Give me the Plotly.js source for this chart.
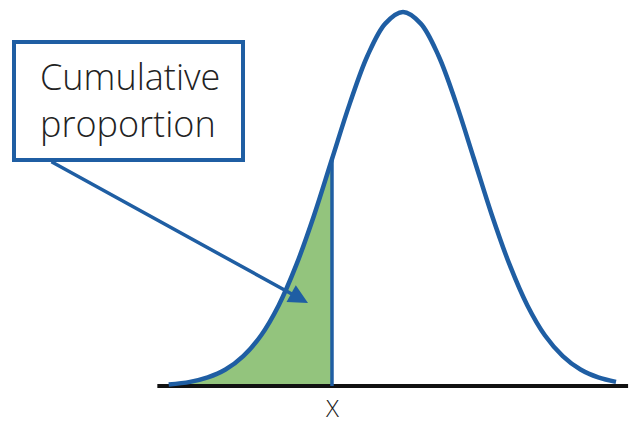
<!DOCTYPE html>
<html>
<head>
<meta charset="utf-8">
<script src="https://cdn.plot.ly/plotly-3.0.1.min.js"></script>
<style>
html,body{margin:0;padding:0;background:#fff;}
#chart{width:629px;height:425px;}
</style>
</head>
<body>
<div id="chart"></div>
<script>
// Curve (x in standard-deviation units, y relative height)
const curveX = [-3.3, -3.0, -2.75, -2.5, -2.25, -2.0, -1.75, -1.5, -1.25, -1.0, -0.75, -0.5, -0.25, 0, 0.25, 0.5, 0.75, 1.0, 1.25, 1.5, 1.75, 2.0, 2.25, 2.5, 2.75, 3.0];
const curveY = [0.004, 0.011, 0.023, 0.044, 0.080, 0.135, 0.216, 0.325, 0.458, 0.607, 0.755, 0.883, 0.969, 1.0, 0.969, 0.883, 0.755, 0.607, 0.458, 0.325, 0.216, 0.135, 0.080, 0.044, 0.023, 0.011];
const markX = -1.0;          // position of X
const markHeight = 0.607;    // curve height at X
const baselineX = [-3.46, 3.17];
const baselineY = [0, 0];
const boxLabel = ["Cumulative", "proportion"];
const markLabel = "X";

const blue = "#1f5ea3";
const green = "#93c47d";

const shadeX = curveX.filter(v => v <= markX);
const shadeY = curveY.slice(0, shadeX.length);

const traces = [
  {x: shadeX, y: shadeY, type: "scatter", mode: "lines", fill: "tozeroy",
   fillcolor: green, line: {width: 0, shape: "spline"}, hoverinfo: "skip"},
  {x: baselineX, y: baselineY, type: "scatter", mode: "lines",
   line: {color: "#111", width: 4}, hoverinfo: "skip"},
  {x: curveX, y: curveY, type: "scatter", mode: "lines",
   line: {color: blue, width: 4.5, shape: "spline", smoothing: 1}, hoverinfo: "skip"},
  {x: [markX, markX], y: [0, markHeight], type: "scatter", mode: "lines",
   line: {color: blue, width: 3.5}, hoverinfo: "skip"}
];

const layout = {
  width: 629, height: 425,
  margin: {l: 0, r: 0, t: 0, b: 0},
  paper_bgcolor: "#fff", plot_bgcolor: "#fff",
  showlegend: false,
  xaxis: {range: [-5.676, 3.183], visible: false, fixedrange: true},
  yaxis: {range: [-0.1043, 1.0321], visible: false, fixedrange: true},
  shapes: [
    {type: "rect", xref: "paper", yref: "paper",
     x0: 14/629, x1: 243/629, y0: 1 - 160/425, y1: 1 - 42/425,
     line: {color: blue, width: 4}, fillcolor: "rgba(0,0,0,0)"}
  ],
  annotations: [
    {xref: "paper", yref: "paper", x: 130/629, y: 1 - 100/425,
     text: boxLabel.join("<br>"), showarrow: false, xanchor: "center", yanchor: "middle",
     align: "left",
     font: {family: "'Open Sans', sans-serif", size: 36, weight: 300, color: "#222"}},
    {x: -1.338, y: 0.222, axref: "x", ayref: "y", ax: -4.972, ay: 0.602,
     text: "", showarrow: true, arrowhead: 2, arrowsize: 1.1, arrowwidth: 3.5,
     arrowcolor: blue},
    {xref: "x", yref: "paper", x: markX, y: 1 - 407/425, text: markLabel, showarrow: false,
     yanchor: "middle",
     font: {family: "'Open Sans', sans-serif", size: 24, weight: 300, color: "#222"}}
  ]
};

Plotly.newPlot("chart", traces, layout, {staticPlot: true, displayModeBar: false});
</script>
</body>
</html>
